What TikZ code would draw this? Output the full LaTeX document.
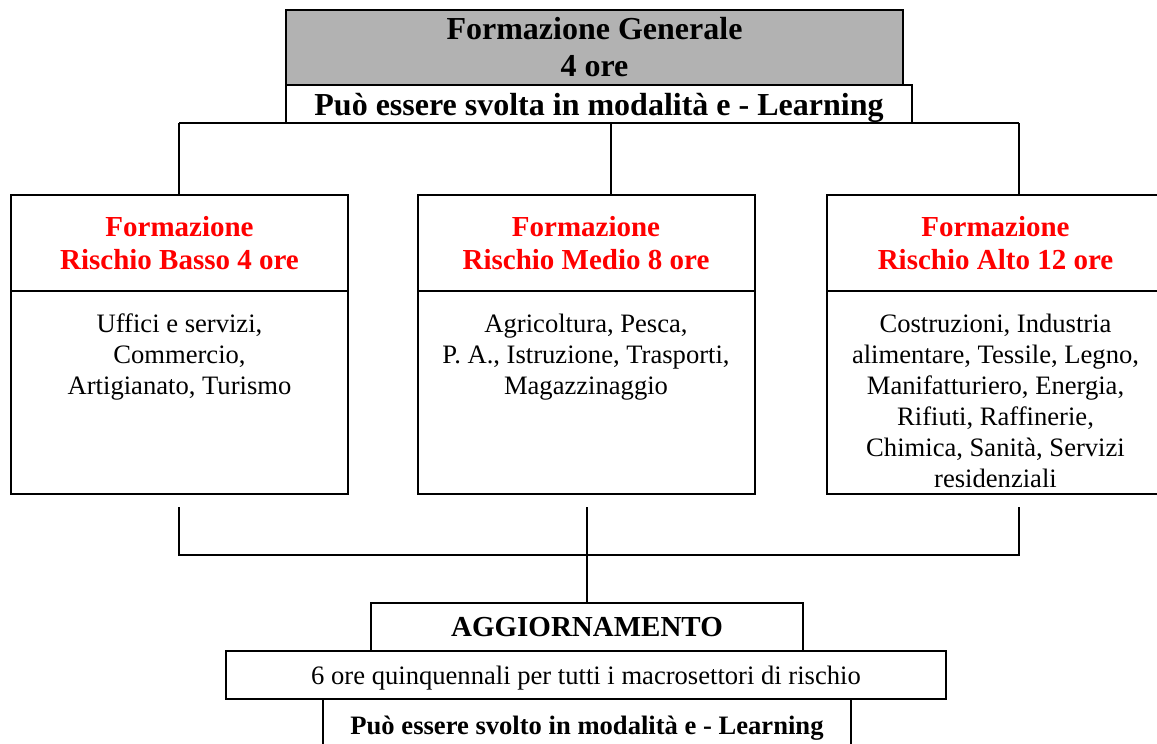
\documentclass[tikz,border=0pt]{standalone}
\usepackage{fontspec}
\setmainfont{Liberation Serif}
\newcommand{\settori}[1]{\parbox[t][97pt][t]{166pt}{\centering\rule{0pt}{18.5pt}#1}}

\begin{document}
\begin{tikzpicture}[x=0.5pt, y=-0.5pt, line width=1pt,
  blocco/.style={draw, inner sep=0pt, outer sep=0pt},
  riga/.style={blocco, text depth=0pt},
  titolo/.style={blocco, align=center, text=red, font=\fontsize{14.5}{16.5}\selectfont\bfseries, minimum width=168.5pt, minimum height=48pt},
  elenco/.style={blocco, font=\fontsize{13.3}{15.5}\selectfont, minimum width=168.5pt, minimum height=101.5pt}]
\useasboundingbox (0,0) rectangle (1157,744);
\node[blocco, fill=black!30, align=center, minimum width=308.5pt, minimum height=37.5pt, font=\fontsize{16}{18.5}\selectfont\bfseries] (generale) at (594.5,47.5) {Formazione Generale\\4 ore};
\node[riga, fill=white, minimum width=313pt, minimum height=19pt, font=\fontsize{16}{18}\selectfont\bfseries] (elearning) at (599,104) {Può essere svolta in modalità e - Learning};
\node[titolo] (bassoT) at (179.5,243) {Formazione\\Rischio Basso 4 ore};
\node[elenco] (bassoE) at (179.5,392.5) {\settori{Uffici e servizi,\\Commercio,\\Artigianato, Turismo}};
\node[titolo] (medioT) at (586,243) {Formazione\\Rischio Medio 8 ore};
\node[elenco] (medioE) at (586,392.5) {\settori{Agricoltura, Pesca,\\P. A., Istruzione, Trasporti,\\Magazzinaggio}};
\node[titolo] (altoT) at (995.5,243) {Formazione\\Rischio Alto 12 ore};
\node[elenco] (altoE) at (995.5,392.5) {\settori{Costruzioni, Industria\\alimentare, Tessile, Legno,\\Manifatturiero, Energia,\\Rifiuti, Raffinerie,\\Chimica, Sanità, Servizi\\residenziali}};
\node[riga, minimum width=216pt, minimum height=24pt, font=\fontsize{14.5}{16}\selectfont\bfseries] (aggiornamento) at (587,627) {AGGIORNAMENTO};
\node[riga, fill=white, minimum width=360pt, minimum height=24pt, font=\fontsize{13.3}{15}\selectfont] (quinquennio) at (586,675) {6 ore quinquennali per tutti i macrosettori di rischio};
\node[riga, minimum width=264pt, minimum height=26pt, font=\fontsize{13.3}{15}\selectfont\bfseries] (svolto) at (587,725) {Può essere svolto in modalità e - Learning};
% ramificazione in alto
\coordinate (nodoSx) at (179,123);
\coordinate (nodoCx) at (611,123);
\coordinate (nodoDx) at (1019,123);
\draw (nodoSx) -- (nodoDx);
\draw (nodoSx) -- (nodoSx |- bassoT.north);
\draw (nodoCx) -- (nodoCx |- medioT.north);
\draw (nodoDx) -- (nodoDx |- altoT.north);
% raccordo in basso
\coordinate (baseSx) at (179,507);
\coordinate (baseCx) at (587,507);
\coordinate (baseDx) at (1019,507);
\draw (baseSx) -- ++(0,48) -| (baseDx);
\draw (baseCx) -- (aggiornamento.north);
\end{tikzpicture}
\end{document}
